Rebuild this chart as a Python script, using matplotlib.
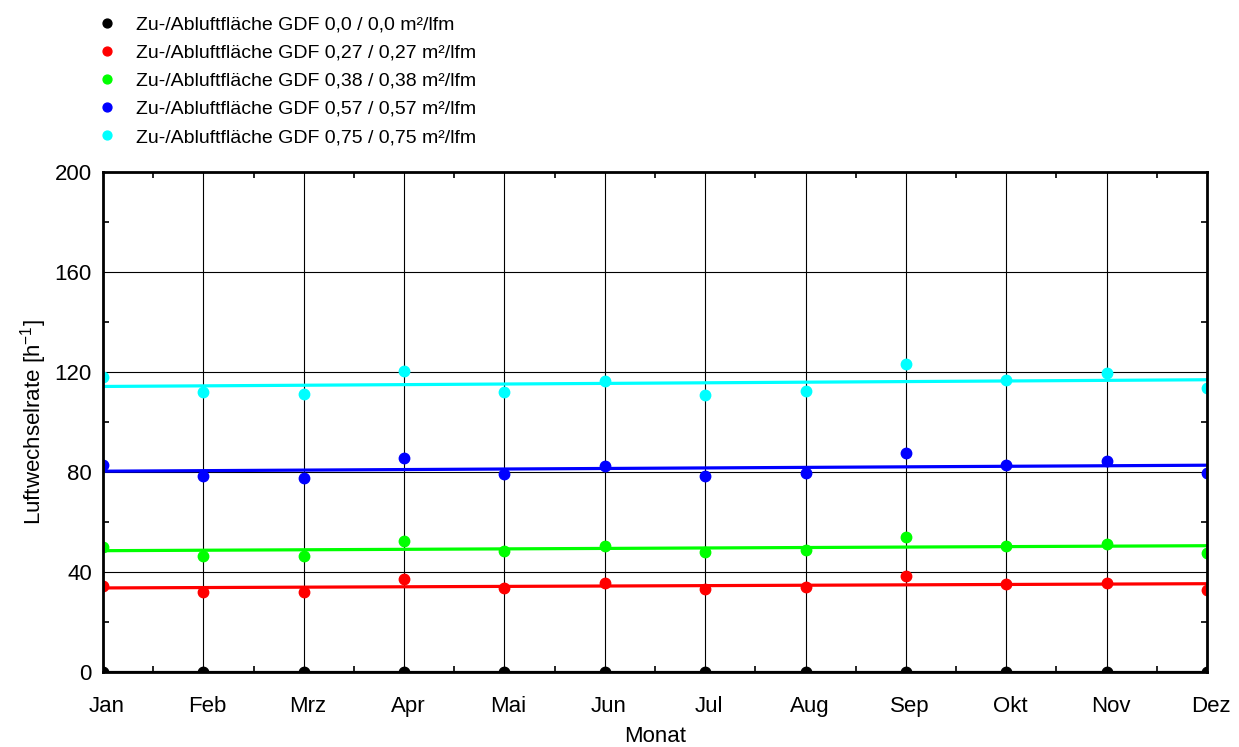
import numpy as np
import matplotlib
matplotlib.use('Agg')
import matplotlib.pyplot as plt
from matplotlib.ticker import MultipleLocator
from matplotlib.transforms import ScaledTranslation

plt.rcParams['font.family'] = ['Liberation Sans', 'DejaVu Sans']
plt.rcParams['mathtext.fontset'] = 'custom'
plt.rcParams['mathtext.rm'] = 'Liberation Sans'
plt.rcParams['mathtext.it'] = 'Liberation Sans'

# ===== Daten =====
monate = ['Jan', 'Feb', 'Mrz', 'Apr', 'Mai', 'Jun', 'Jul', 'Aug', 'Sep', 'Okt', 'Nov', 'Dez']

gdf_000 = [0, 0, 0, 0, 0, 0, 0, 0, 0, 0, 0, 0]
gdf_027 = [34.4, 31.9, 31.9, 37.1, 33.7, 35.5, 33.3, 33.9, 38.3, 35.2, 35.7, 32.8]
gdf_038 = [49.9, 46.5, 46.5, 52.5, 48.4, 50.5, 47.9, 48.7, 54.1, 50.4, 51.2, 47.7]
gdf_057 = [82.8, 78.3, 77.7, 85.5, 79.3, 82.5, 78.4, 79.5, 87.5, 82.7, 84.4, 79.7]
gdf_075 = [118.1, 111.9, 111.2, 120.5, 112.1, 116.4, 110.8, 112.4, 123.2, 116.8, 119.7, 113.7]

labels = ['Zu-/Abluftfläche GDF 0,0 / 0,0 m²/lfm',
          'Zu-/Abluftfläche GDF 0,27 / 0,27 m²/lfm',
          'Zu-/Abluftfläche GDF 0,38 / 0,38 m²/lfm',
          'Zu-/Abluftfläche GDF 0,57 / 0,57 m²/lfm',
          'Zu-/Abluftfläche GDF 0,75 / 0,75 m²/lfm']
farben = ['#000000', '#FF0000', '#00FF00', '#0000FF', '#00FFFF']
reihen = [gdf_000, gdf_027, gdf_038, gdf_057, gdf_075]

# ===== Plot =====
fig = plt.figure(figsize=(12.39, 7.47), dpi=100)
ax = fig.add_axes([0.0831, 0.1004, 0.8911, 0.6693])

x = np.arange(len(monate))
handles = []
for werte, farbe, lab in zip(reihen, farben, labels):
    werte = np.array(werte, dtype=float)
    # lineare Trendlinie
    k, d = np.polyfit(x, werte, 1)
    ax.plot(x, k * x + d, color=farbe, lw=2.3, zorder=3)
    h, = ax.plot(x, werte, 'o', color=farbe, ms=7.5, zorder=4, label=lab)
    handles.append(h)

ax.set_xlim(0, 11)
ax.set_ylim(0, 200)
ax.set_xticks(x)
ax.set_xticklabels(monate)
ax.xaxis.set_minor_locator(MultipleLocator(0.5))
ax.yaxis.set_major_locator(MultipleLocator(40))
ax.yaxis.set_minor_locator(MultipleLocator(20))

ax.grid(True, which='major', color='black', lw=0.8, zorder=1)
ax.tick_params(which='major', direction='in', length=0, labelsize=16,
               top=True, right=True)
ax.tick_params(axis='x', which='major', pad=17)
ax.tick_params(axis='y', which='major', pad=8)
ax.tick_params(which='minor', direction='in', length=4, width=1.2,
               top=True, right=True)
for sp in ax.spines.values():
    sp.set_linewidth(2.0)
    sp.set_zorder(5)

# Monatsbeschriftung leicht nach rechts versetzt
versatz = ScaledTranslation(4 / 100, 0, fig.dpi_scale_trans)
for lbl in ax.get_xticklabels():
    lbl.set_transform(lbl.get_transform() + versatz)

ax.set_xlabel('Monat', fontsize=16, labelpad=7)
ax.set_ylabel('Luftwechselrate [h$^{-1}$]', fontsize=16, labelpad=4)

fig.legend(handles=handles, loc='upper left', bbox_to_anchor=(97 / 1239, 1 - 16 / 747),
           frameon=False, fontsize=14, handlelength=1.0, handletextpad=1.0,
           labelspacing=0.54, borderpad=0, borderaxespad=0, markerscale=0.85)

fig.savefig('out.png', dpi=100, facecolor='white')
plt.close(fig)
